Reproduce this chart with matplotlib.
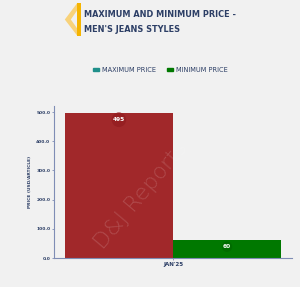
import matplotlib.pyplot as plt
from matplotlib.patches import Polygon, Rectangle

# data
categories = ["JAN'25"]
series = ["MAXIMUM PRICE", "MINIMUM PRICE"]
max_price = [495]
min_price = [60]
bar_colors = ["#a1282a", "#007800"]
legend_colors = ["#1f8f8a", "#007800"]
yticks = [0, 100, 200, 300, 400, 500]

navy = "#2d3f66"

fig = plt.figure(figsize=(3.0, 2.87), dpi=100)
fig.patch.set_facecolor("#f1f1f1")

# yellow bracket next to title
fig.patches.append(Polygon([[0.258, 0.99], [0.216, 0.932], [0.258, 0.875],
                            [0.258, 0.90], [0.236, 0.932], [0.258, 0.965]], closed=True,
                           transform=fig.transFigure, facecolor="#f8d27a", edgecolor="none"))
fig.patches.append(Rectangle((0.258, 0.875), 0.011, 0.115, transform=fig.transFigure,
                             facecolor="#f5b400", edgecolor="none"))
fig.text(0.28, 0.948, "MAXIMUM AND MINIMUM PRICE -", fontsize=5.9, fontweight="bold",
         color=navy, va="center", ha="left")
fig.text(0.28, 0.898, "MEN'S JEANS STYLES", fontsize=5.9, fontweight="bold",
         color=navy, va="center", ha="left")

ax = fig.add_axes([0.18, 0.101, 0.793, 0.53])
ax.set_facecolor("none")

x = [0]
w = 0.5
b1 = ax.bar([i - w / 2 for i in x], max_price, w, color=bar_colors[0], label=series[0], zorder=2)
b2 = ax.bar([i + w / 2 for i in x], min_price, w, color=bar_colors[1], label=series[1], zorder=2)

for bars, c in ((b1, "#961f22"), (b2, "#006c00")):
    for b in bars:
        ax.annotate(f"{b.get_height():g}", (b.get_x() + b.get_width() / 2, b.get_height()),
                    xytext=(0, -4.5), textcoords="offset points", ha="center", va="center",
                    fontsize=4.2, fontweight="bold", color="white",
                    bbox=dict(boxstyle="circle,pad=0.2", facecolor=c, edgecolor="none"))

ax.set_xlim(-0.55, 0.55)
ax.set_ylim(0, 521)
ax.set_xticks(x)
ax.set_xticklabels(categories, fontsize=4.0, fontweight="bold", color=navy)
ax.set_yticks(yticks)
ax.set_yticklabels([f"{v:.1f}" for v in yticks], fontsize=3.2, fontweight="bold", color=navy)
ax.tick_params(length=1.5, width=0.6, color="#7f8db5", pad=1.2)
ax.set_ylabel("PRICE (USD/ARTICLE)", fontsize=3.2, fontweight="bold", color=navy, labelpad=3)
for s in ["top", "right"]:
    ax.spines[s].set_visible(False)
for s in ["left", "bottom"]:
    ax.spines[s].set_color("#7f8db5")
    ax.spines[s].set_linewidth(0.8)

# legend
fig.legend(handles=[Rectangle((0, 0), 1, 1, color=c) for c in legend_colors], labels=series,
           loc="center", bbox_to_anchor=(0.535, 0.757), ncol=2, frameon=False,
           fontsize=4.8, handlelength=0.9, handleheight=0.3, columnspacing=1.6,
           handletextpad=0.5, labelcolor=navy)

# watermark
fig.text(0.47, 0.32, "D&J Reports", fontsize=16, color="white", alpha=0.16,
         rotation=50, ha="center", va="center", fontweight="light")

fig.savefig("out.png", dpi=100, facecolor=fig.get_facecolor())
